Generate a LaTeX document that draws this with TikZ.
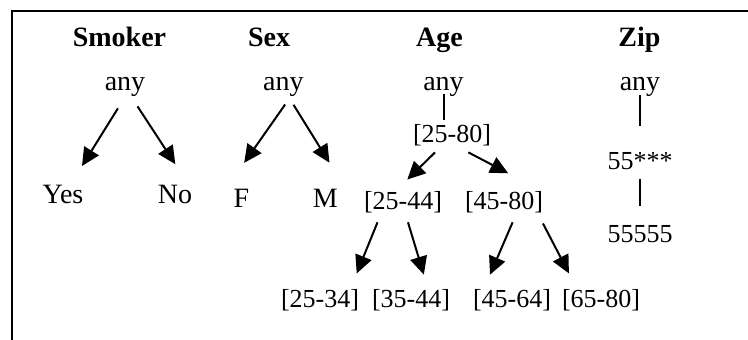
\documentclass[tikz,border=0pt]{standalone}
\usepackage{fontspec}
\setmainfont{Liberation Serif}
\usetikzlibrary{arrows.meta}

\tikzset{
  word/.style={inner sep=2pt, text height=10pt, text depth=3pt, font=\fontsize{14}{16}\selectfont},
  num/.style={inner sep=2pt, text height=9.5pt, text depth=2.5pt, font=\fontsize{13}{15}\selectfont},
  head/.style={word, font=\fontsize{14}{16}\selectfont\bfseries},
  arr/.style={line width=1pt, -{Triangle[length=9pt,width=8.5pt]}},
  bar/.style={line width=1pt},
  % arrow from parent angle #1 to child angle #2, gaps #3 and #4
  link/.style n args={4}{parent anchor=#1, child anchor=#2,
    edge from parent/.style={draw, arr, shorten <=#3, shorten >=#4},
    edge from parent path={(\tikzparentnode\tikzparentanchor) -- (\tikzchildnode\tikzchildanchor)}},
  % plain vertical bar below the parent
  vlink/.style 2 args={edge from parent/.style={draw, bar, shorten <=#1, shorten >=#2},
    edge from parent path={(\tikzparentnode.south) -- (\tikzparentnode.south |- \tikzchildnode.north)}}
}

\begin{document}
\begin{tikzpicture}[x=0.5pt, y=-0.5pt]
\useasboundingbox (0,0) rectangle (748,340);
\draw[line width=1pt] (12,340) -- (12,11) -- (748,11);

% headings
\node[head] (hsmoker) at (119.5,40) {Smoker};
\node[head] (hsex) at (269,40) {Sex};
\node[head] (hage) at (439.5,40) {Age};
\node[head] (hzip) at (639.5,40) {Zip};

% smoker
\begin{scope}[level distance=56.25pt, sibling distance=56pt]
\node[word] (sany) at (125,84) {any}
  child[link={-99}{58}{4.1pt}{7.7pt}] {node[word, xshift=-3pt] (yes) {Yes}}
  child[link={-62.6}{60}{3pt}{8.9pt}] {node[word, xshift=-3pt] (no) {No}};
\end{scope}

% sex
\begin{scope}[level distance=58.25pt, sibling distance=42pt]
\node[word] (xany) at (283.3,84) {any}
  child[link={-77}{127}{1.9pt}{13.1pt}] {node[word] (f) {F}}
  child[link={-65}{46}{2pt}{12pt}] {node[word] (m) {M}};
\end{scope}

% age
\begin{scope}[level 1/.style={level distance=26pt},
  level 2/.style={level distance=33.5pt, sibling distance=50.5pt},
  level 3/.style={level distance=49pt, sibling distance=45pt}]
\node[word] (aany) at (443.5,84) {any}
  child[vlink={-3.5pt}{0pt}] {node[num, xshift=4.25pt] (a2580) {[25-80]}
    child[link={-136}{100}{0pt}{5pt}] {node[num, xshift=.75pt] (a2544) {[25-44]}
      child[link={-146.5}{27}{1.6pt}{6pt}] {node[num, xshift=-19pt] (a2534) {[25-34]}}
      child[link={-76}{46.5}{1.5pt}{5.2pt}] {node[num, xshift=-18.5pt] (a3544) {[35-44]}}
    }
    child[link={-45}{29}{0pt}{14.3pt}] {node[num, xshift=.75pt] (a4580) {[45-80]}
      child[link={-59.6}{148.6}{1.6pt}{5.4pt}] {node[num, xshift=26.5pt] (a4564) {[45-64]}}
      child[link={-24.6}{148.4}{2.3pt}{6.3pt}] {node[num, xshift=26pt] (a6580) {[65-80]}}
    }
  };
\end{scope}

% zip
\begin{scope}[level 1/.style={level distance=39.5pt},
  level 2/.style={level distance=36.5pt}]
\node[word] (zany) at (640,84) {any}
  child[vlink={-3.3pt}{10.2pt}] {node[num] (z55) {55***}
    child[vlink={-.3pt}{6.7pt}] {node[num] (z55555) {55555}}
  };
\end{scope}
\end{tikzpicture}
\end{document}
